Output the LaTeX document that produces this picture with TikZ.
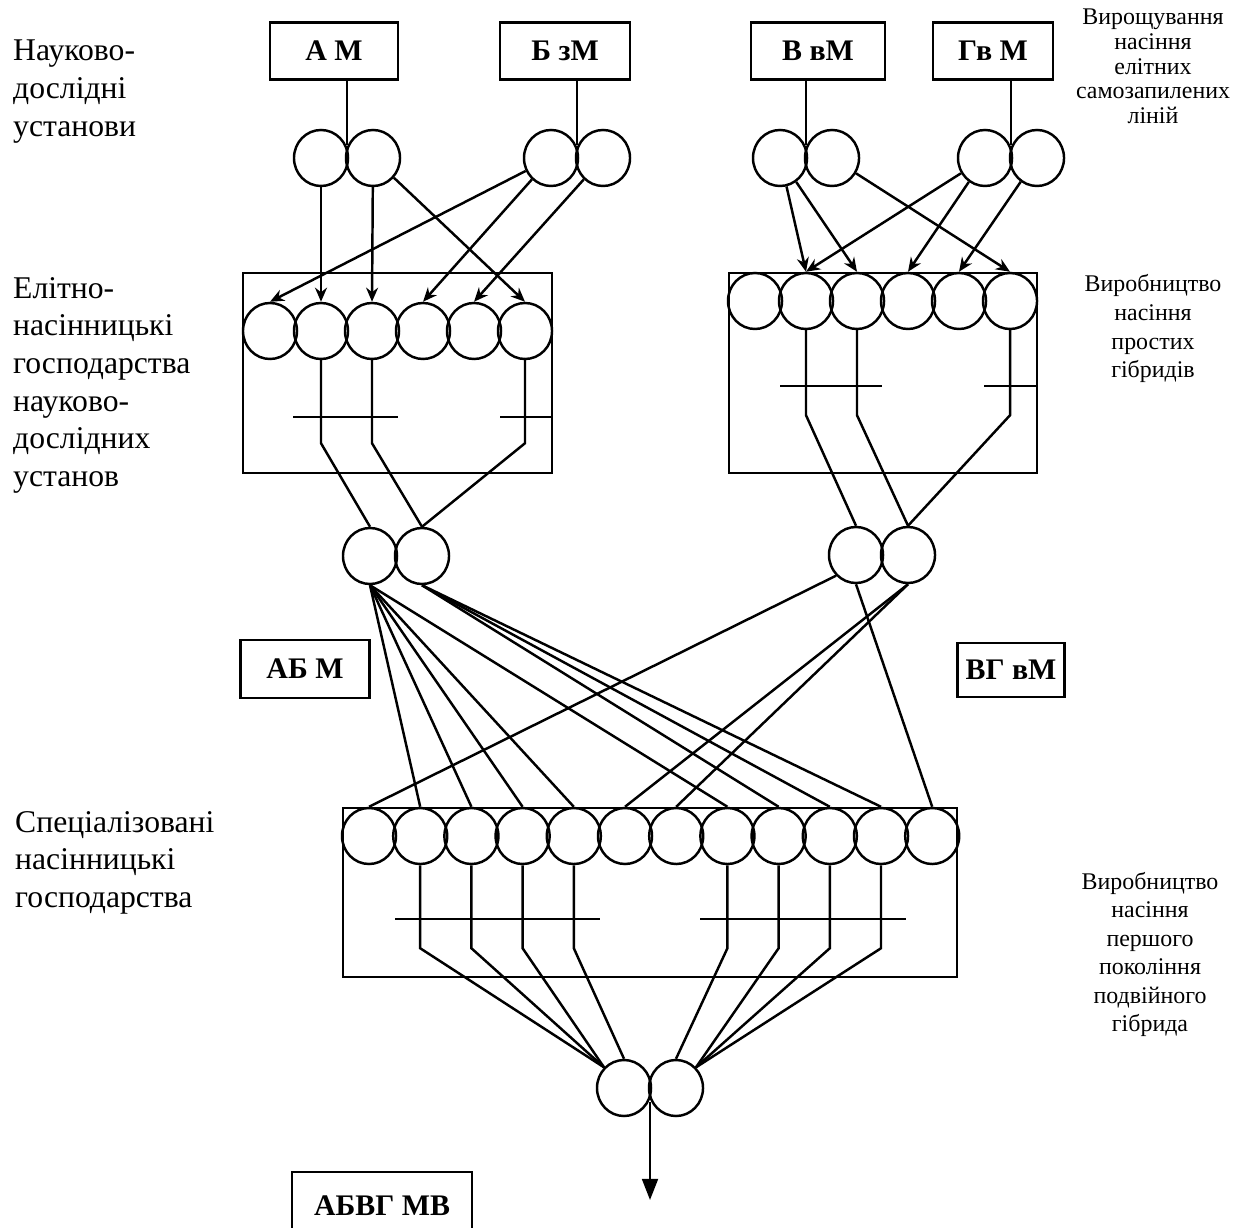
\documentclass[tikz,border=0pt]{standalone}
\usepackage{fontspec}
\setmainfont{Liberation Serif}
\usetikzlibrary{arrows.meta,shapes.geometric,calc}

\begin{document}
\begin{tikzpicture}[x=0.01cm,y=-0.01cm,line width=0.7pt,
  seed/.style={draw,ellipse,inner sep=0pt,minimum width=0.54cm,minimum height=0.56cm},
  parent/.style={draw,line width=0.8pt,inner sep=0pt,minimum height=0.57cm,font=\bfseries\fontsize{8.5}{10}\selectfont},
  lab/.style={align=left,inner sep=0pt,anchor=north west,font=\fontsize{9}{10.7}\selectfont},
  stage/.style={align=center,inner sep=0pt,anchor=north},
  feed/.style={-{Stealth[length=4pt,width=3.4pt]}}]
  \useasboundingbox (0,0) rectangle (1237,1228);

  \node[lab] (sci) at (12,39) {Науково-\\дослідні\\установи};
  \node[lab] (elite) at (12,276) {Елітно-\\насінницькі\\господарства\\науково-\\дослідних\\установ};
  \node[lab] (spec) at (14,810) {Спеціалізовані\\насінницькі\\господарства};
  \node[stage,font=\fontsize{6.8}{7}\selectfont] (grow) at (1153,8) {Вирощування\\насіння\\елітних\\самозапилених\\ліній};
  \node[stage,font=\fontsize{6.8}{8.2}\selectfont] (simple) at (1153,273) {Виробництво\\насіння\\простих\\гібридів};
  \node[stage,font=\fontsize{6.8}{8.1}\selectfont] (double) at (1150,871) {Виробництво\\насіння\\першого\\покоління\\подвійного\\гібрида};

  \foreach \n/\x/\w/\t in {AM/334/1.28/А М, BM/565/1.30/Б зМ, VM/818/1.34/В вМ, GM/993/1.20/Гв М}
    \node[parent,minimum width=\w cm] (\n) at (\x,51) {\t};
  \foreach \n/\x in {A/321,B/551,V/780,G/985}{
    \node[seed] (\n1) at (\x,158) {};
    \node[seed] (\n2) at (\x+52,158) {};
    \coordinate (\n0) at (\x+26,145);
  }
  \foreach \n/\p in {AM/A,BM/B,VM/V,GM/G}
    \draw (\n.south -| \p0) -- (\p0);

  \draw (243,273) rectangle (552,473);
  \draw (729,273) rectangle (1037,473);
  \foreach \i in {1,...,6}{
    \node[seed] (L\i) at (219+51*\i,331) {};
    \node[seed] (R\i) at (704+51*\i,301) {};
  }
  \foreach \s/\t in {B1/L1,A1/L2,A2/L3,B1/L4,B2/L5,A2/L6,V1/R2,V1/R3,V2/R6,G1/R2,G1/R4,G2/R5}
    \draw[feed] (\s) -- (\t.north);

  \node[seed] (LP1) at (370,556) {};
  \node[seed] (LP2) at (422,556) {};
  \node[seed] (RP1) at (856,555) {};
  \node[seed] (RP2) at (908,555) {};
  \draw (L2.south) -- ++(0,83) -- (LP1.north);
  \foreach \i in {3,6} \draw (L\i.south) -- ++(0,83) -- (LP2.north);
  \draw (293,417) -- (398,417);
  \draw (500,417) -- (552,417);
  \draw (R2.south) -- ++(0,85) -- (RP1.north);
  \foreach \i in {3,6} \draw (R\i.south) -- ++(0,85) -- (RP2.north);
  \draw (780,386) -- (882,386);
  \draw (984,386) -- (1037,386);

  \node[parent,minimum width=1.29cm,minimum height=0.58cm] (ABM) at (305,669) {АБ М};
  \node[parent,minimum width=1.07cm,minimum height=0.54cm] (VGM) at (1011,670) {ВГ вМ};

  \draw (343,808) rectangle (957,977);
  \foreach \i in {1,...,12}
    \node[seed] (E\i) at (317.8+51.2*\i,836) {};
  \foreach \t in {2,3,4,5,8} \draw (LP1.south) -- (E\t.north);
  \foreach \t in {9,10,11} \draw (LP2.south) -- (E\t.north);
  \foreach \t in {6,7} \draw (RP2.south) -- (E\t.north);
  \draw (RP1.south west) -- (E1.north);
  \draw (RP1.south) -- (E12.north);

  \node[seed] (Z1) at (624,1088) {};
  \node[seed] (Z2) at (676,1088) {};
  \foreach \i in {2,3,4} \draw (E\i.south) -- ++(0,83) -- (Z1.north west);
  \draw (E5.south) -- ++(0,83) -- (Z1.north);
  \draw (E8.south) -- ++(0,83) -- (Z2.north);
  \foreach \i in {9,10,11} \draw (E\i.south) -- ++(0,83) -- (Z2.north east);
  \draw (395,919) -- (600,919);
  \draw (700,919) -- (906,919);
  \coordinate (Z0) at (650,1102);
  \coordinate (seedout) at (650,1200);
  \draw[-{Triangle[length=6pt,width=4.5pt]}] (Z0) -- (seedout);

  \node[parent,minimum width=1.80cm,minimum height=0.68cm] (ABVG) at (382,1206) {АБВГ МВ};
\end{tikzpicture}
\end{document}
